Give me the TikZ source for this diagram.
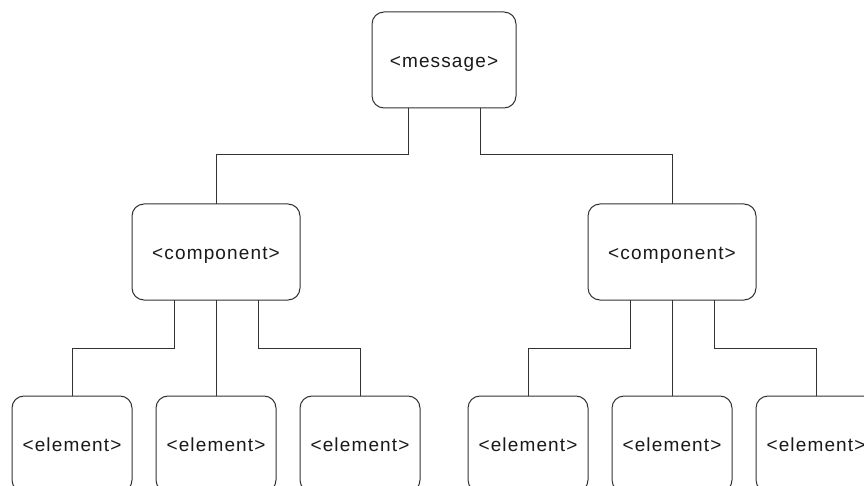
\documentclass[tikz,border=0pt]{standalone}
\usepackage{fontspec}
\setmainfont{Liberation Sans}[LetterSpace=6]
\begin{document}
\begin{tikzpicture}[x=1pt,y=-1pt,
  box/.style={draw=black!80, line width=1pt, rounded corners=12pt, inner sep=0pt, outer sep=0pt,
    minimum height=96pt, text height=14.5pt, text depth=0pt,
    font=\fontsize{19}{23}\selectfont, text=black!90},
  msgbox/.style={box, minimum width=144pt},
  compbox/.style={box, minimum width=168pt},
  elbox/.style={box, minimum width=120pt},
  link/.style={draw=black!80, line width=1pt}]
\useasboundingbox (0,0) rectangle (864,486);
\clip (0,0) rectangle (864,486);
\node[msgbox] (msg) at (444,60) {<message>};
\node[compbox] (cL) at (216,252) {<component>};
\node[compbox] (cR) at (672,252) {<component>};
\node[elbox] (e1) at (72,444) {<element>};
\node[elbox] (e2) at (216,444) {<element>};
\node[elbox] (e3) at (360,444) {<element>};
\node[elbox] (e4) at (528,444) {<element>};
\node[elbox] (e5) at (672,444) {<element>};
\node[elbox] (e6) at (816,444) {<element>};
\draw[link] ([xshift=-36pt]msg.south) -- ++(0,47) -| (cL.north);
\draw[link] ([xshift=36pt]msg.south) -- ++(0,47) -| (cR.north);
\draw[link] ([xshift=-42pt]cL.south) -- ++(0,48) -| (e1.north);
\draw[link] (cL.south) -- (e2.north);
\draw[link] ([xshift=42pt]cL.south) -- ++(0,48) -| (e3.north);
\draw[link] ([xshift=-42pt]cR.south) -- ++(0,48) -| (e4.north);
\draw[link] (cR.south) -- (e5.north);
\draw[link] ([xshift=42pt]cR.south) -- ++(0,48) -| (e6.north);
\end{tikzpicture}
\end{document}
